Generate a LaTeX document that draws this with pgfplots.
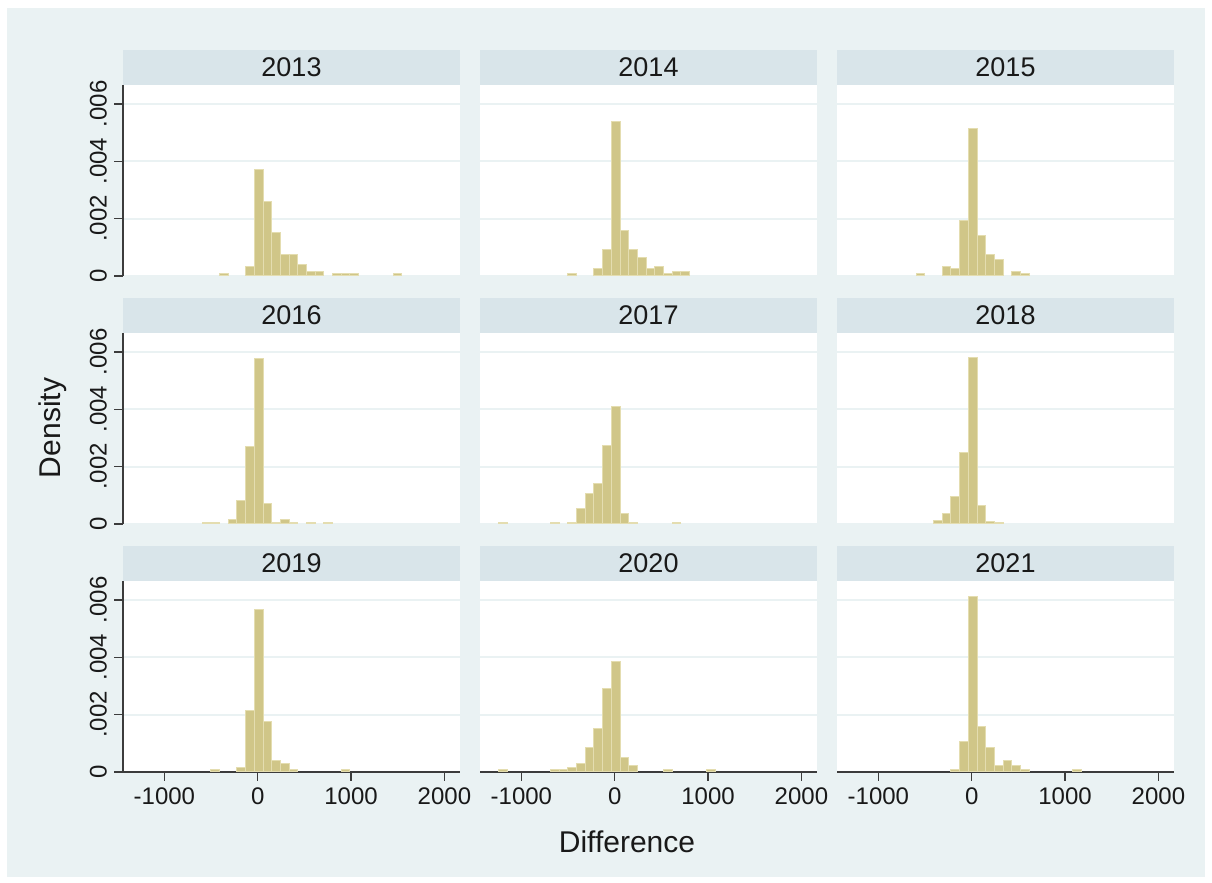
\documentclass[border=0pt]{standalone}
\usepackage{pgfplots}
\usepackage{pgfplotstable}
\pgfplotsset{compat=1.18}
\usepackage{fontspec}
\setmainfont{Liberation Sans}

\definecolor{bgc}{RGB}{234,242,243}
\definecolor{stripc}{RGB}{217,229,234}
\definecolor{gridc}{RGB}{234,242,243}
\definecolor{barfill}{RGB}{208,198,136}
\definecolor{baredge}{RGB}{228,221,176}
\definecolor{axc}{RGB}{60,60,60}

% bin centres (bin width 93)
\pgfplotstableread{
x y
-361.5 0.00007
-82.5 0.00033
10.5 0.00371
103.5 0.00261
196.5 0.00150
289.5 0.00074
382.5 0.00074
475.5 0.00041
568.5 0.00014
661.5 0.00014
847.5 0.00007
940.5 0.00007
1033.5 0.00007
1498.5 0.00007
}\dA
\pgfplotstableread{
x y
-454.5 0.00007
-175.5 0.00025
-82.5 0.00091
10.5 0.00538
103.5 0.00159
196.5 0.00091
289.5 0.00066
382.5 0.00025
475.5 0.00033
568.5 0.00007
661.5 0.00014
754.5 0.00014
}\dB
\pgfplotstableread{
x y
-547.5 0.00007
-268.5 0.00033
-175.5 0.00025
-82.5 0.00193
10.5 0.00515
103.5 0.00142
196.5 0.00074
289.5 0.00059
475.5 0.00014
568.5 0.00007
}\dC
\pgfplotstableread{
x y
-547.5 0.00005
-454.5 0.00005
-268.5 0.00014
-175.5 0.00082
-82.5 0.00270
10.5 0.00576
103.5 0.00073
196.5 0.00005
289.5 0.00014
382.5 0.00005
568.5 0.00005
754.5 0.00005
}\dD
\pgfplotstableread{
x y
-1198.5 0.00005
-640.5 0.00005
-454.5 0.00005
-361.5 0.00055
-268.5 0.00105
-175.5 0.00140
-82.5 0.00275
10.5 0.00410
103.5 0.00036
196.5 0.00005
661.5 0.00005
}\dE
\pgfplotstableread{
x y
-361.5 0.00013
-268.5 0.00036
-175.5 0.00096
-82.5 0.00250
10.5 0.00581
103.5 0.00064
196.5 0.00010
289.5 0.00004
}\dF
\pgfplotstableread{
x y
-454.5 0.00007
-175.5 0.00015
-82.5 0.00215
10.5 0.00566
103.5 0.00176
196.5 0.00041
289.5 0.00031
382.5 0.00007
940.5 0.00007
}\dG
\pgfplotstableread{
x y
-1198.5 0.00007
-640.5 0.00007
-547.5 0.00007
-454.5 0.00015
-361.5 0.00031
-268.5 0.00084
-175.5 0.00150
-82.5 0.00290
10.5 0.00386
103.5 0.00049
196.5 0.00023
568.5 0.00007
1033.5 0.00007
}\dH
\pgfplotstableread{
x y
-175.5 0.00007
-82.5 0.00108
10.5 0.00613
103.5 0.00159
196.5 0.00084
289.5 0.00023
382.5 0.00041
475.5 0.00023
568.5 0.00007
1126.5 0.00007
}\dI

\pgfplotsset{
  panel/.style={
    scale only axis, width=168.5pt, height=95.5pt,
    anchor=south west,
    xmin=-1443, xmax=2167, ymin=0, ymax=0.00666,
    axis background/.style={fill=white},
    ymajorgrids, grid style={line width=1pt, color=gridc},
    ytick={0,0.002,0.004,0.006},
    xtick={-1000,0,1000,2000},
    scaled y ticks=false,
    tick align=outside, major tick length=4.5pt,
    tick style={color=axc, line width=0.6pt},
    axis lines*=left,
    axis line style={color=axc, line width=0.6pt},
    ybar, bar width=93,
    /pgf/number format/assume math mode=true,
    ticklabel style={font=\fontsize{12}{14}\selectfont, color=black!90},
  },
  leftcol/.style={yticklabels={0,.002,.004,.006},
    yticklabel style={rotate=90, anchor=south}},
  innercol/.style={yticklabels={}, y axis line style={draw=none},
    ytick style={draw=none}},
  bottomrow/.style={xticklabels={-1000,0,1000,2000}},
  upperrow/.style={xticklabels={}, x axis line style={draw=none},
    xtick style={draw=none}},
}

\newcommand{\panel}[6]{%
  \begin{axis}[panel, #4, #5, at={(#1pt,#2pt)}]
    \addplot[fill=barfill, draw=baredge, line width=0.5pt] table[x=x,y=y] {#6};
  \end{axis}
  \fill[stripc] (#1pt,#2pt+95.5pt) rectangle (#1pt+168.5pt,#2pt+113pt);
  \node[font=\fontsize{13.5}{15}\selectfont, color=black!90] at (#1pt+84.25pt,#2pt+104.25pt) {#3};
}

\begin{document}
\begin{tikzpicture}
  \fill[white] (0,0) rectangle (606pt,441.5pt);
  \useasboundingbox (0,0) rectangle (606pt,441.5pt);
  \fill[bgc] (3.5pt,3pt) rectangle (602.5pt,437.5pt);

  \panel{61.5}{303.5}{2013}{leftcol}{upperrow}{\dA}
  \panel{240}{303.5}{2014}{innercol}{upperrow}{\dB}
  \panel{418.5}{303.5}{2015}{innercol}{upperrow}{\dC}
  \panel{61.5}{179.5}{2016}{leftcol}{upperrow}{\dD}
  \panel{240}{179.5}{2017}{innercol}{upperrow}{\dE}
  \panel{418.5}{179.5}{2018}{innercol}{upperrow}{\dF}
  \panel{61.5}{55.5}{2019}{leftcol}{bottomrow}{\dG}
  \panel{240}{55.5}{2020}{innercol}{bottomrow}{\dH}
  \panel{418.5}{55.5}{2021}{innercol}{bottomrow}{\dI}

  \node[rotate=90, font=\fontsize{15}{17}\selectfont, color=black!90] at (26.5pt,227.5pt) {Density};
  \node[font=\fontsize{15}{17}\selectfont, color=black!90] at (313.5pt,20.5pt) {Difference};
\end{tikzpicture}
\end{document}
